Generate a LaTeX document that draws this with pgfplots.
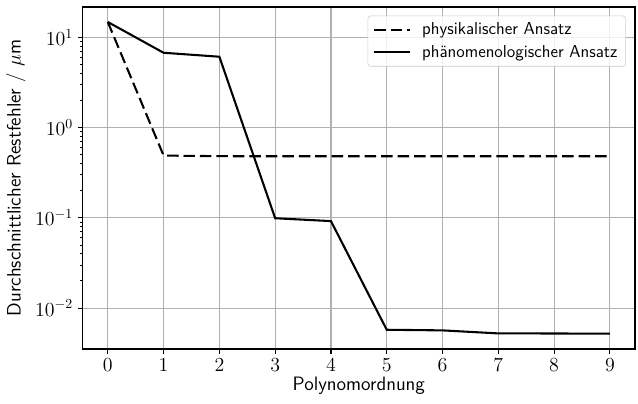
\documentclass[border=0pt]{standalone}
\usepackage{pgfplots}
\pgfplotsset{compat=1.18}
\begin{document}
\begin{tikzpicture}[x=1in,y=1in]
\begin{semilogyaxis}[
  at={(0,0)}, anchor=south west,
  scale only axis, width=5.523in, height=3.42in,
  xmin=-0.45, xmax=9.45, ymin=0.00352, ymax=21.7,
  xtick={0,1,2,3,4,5,6,7,8,9},
  ytick={0.01,0.1,1,10},
  grid=major,
  major grid style={color=black!31, line width=0.8pt},
  axis line style={line width=0.8pt},
  tick align=outside, tick pos=left,
  major tick length=3.5pt, minor tick length=2pt,
  major tick style={black, line width=0.8pt},
  minor tick style={black, line width=0.6pt},
  ticklabel style={font=\fontsize{14}{16}\selectfont},
  xlabel={Polynomordnung},
  ylabel={Durchschnittlicher Restfehler / $\mu$m},
  label style={font=\fontsize{14}{16}\selectfont\sffamily},
  xlabel style={yshift=3pt},
  legend cell align=left,
  legend style={at={(1,1)}, anchor=north east, xshift=-0.09in, yshift=-0.087in,
    draw=black!20, rounded corners=2pt, fill=white, fill opacity=0.8, text opacity=1,
    font=\fontsize{12.5}{15}\selectfont\sffamily, row sep=2pt, inner xsep=4pt, inner ysep=3pt},
  legend image code/.code={\draw[#1] (0in,0in) -- (0.36in,0in); \path (0.44in,0in);},
]
\addplot[black, line width=1.5pt, dash pattern=on 8.3pt off 3.6pt] coordinates {
  (0,14.8) (1,0.49) (2,0.482) (3,0.481) (4,0.481) (5,0.481) (6,0.481) (7,0.481) (8,0.481) (9,0.481)
};
\addlegendentry{physikalischer Ansatz}
\addplot[black, line width=1.5pt] coordinates {
  (0,14.8) (1,6.75) (2,6.1) (3,0.099) (4,0.092) (5,0.00575) (6,0.00566) (7,0.00524) (8,0.00523) (9,0.0052)
};
\addlegendentry{phänomenologischer Ansatz}
\end{semilogyaxis}
\pgfresetboundingbox
\path (-0.827,-0.55) rectangle (5.553,3.49);
\end{tikzpicture}
\end{document}
